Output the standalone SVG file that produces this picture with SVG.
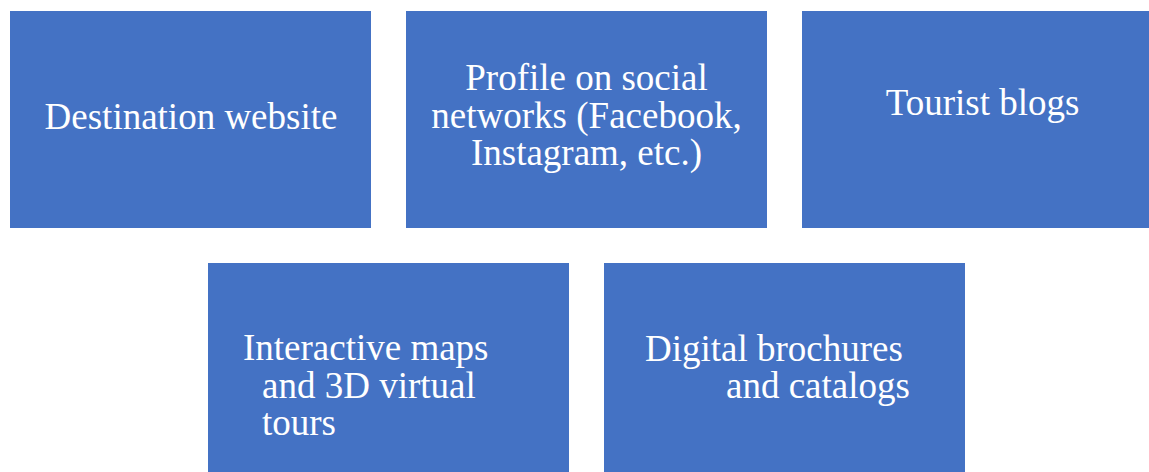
<svg xmlns="http://www.w3.org/2000/svg" width="1149" height="472" viewBox="0 0 1149 472">
  <style>
    .box { fill: #4472C4; }
    .label { fill: #FFFFFF; font-family: "Liberation Serif", "Times New Roman", serif; font-size: 37px; }
    .mid { text-anchor: middle; }
  </style>
  <rect x="0" y="0" width="1149" height="472" fill="#FFFFFF"/>

  <g id="node-destination-website">
    <rect class="box" x="10" y="11" width="361" height="217"/>
    <text class="label mid" x="191" y="129">Destination website</text>
  </g>

  <g id="node-social-profile">
    <rect class="box" x="406" y="11" width="361" height="217"/>
    <text class="label mid" x="586.5" y="90">Profile on social</text>
    <text class="label mid" x="586.5" y="127.5">networks (Facebook,</text>
    <text class="label mid" x="586.5" y="165">Instagram, etc.)</text>
  </g>

  <g id="node-tourist-blogs">
    <rect class="box" x="802" y="11" width="361" height="217"/>
    <text class="label mid" x="982.5" y="115">Tourist blogs</text>
  </g>

  <g id="node-interactive-maps">
    <rect class="box" x="208" y="263" width="361" height="217"/>
    <text class="label" x="243" y="360">Interactive maps</text>
    <text class="label" x="262" y="397.5">and 3D virtual</text>
    <text class="label" x="262" y="435">tours</text>
  </g>

  <g id="node-digital-brochures">
    <rect class="box" x="604" y="263" width="361" height="217"/>
    <text class="label" x="645" y="361">Digital brochures</text>
    <text class="label" x="726" y="398">and catalogs</text>
  </g>

  <g id="connectors"></g>
</svg>
